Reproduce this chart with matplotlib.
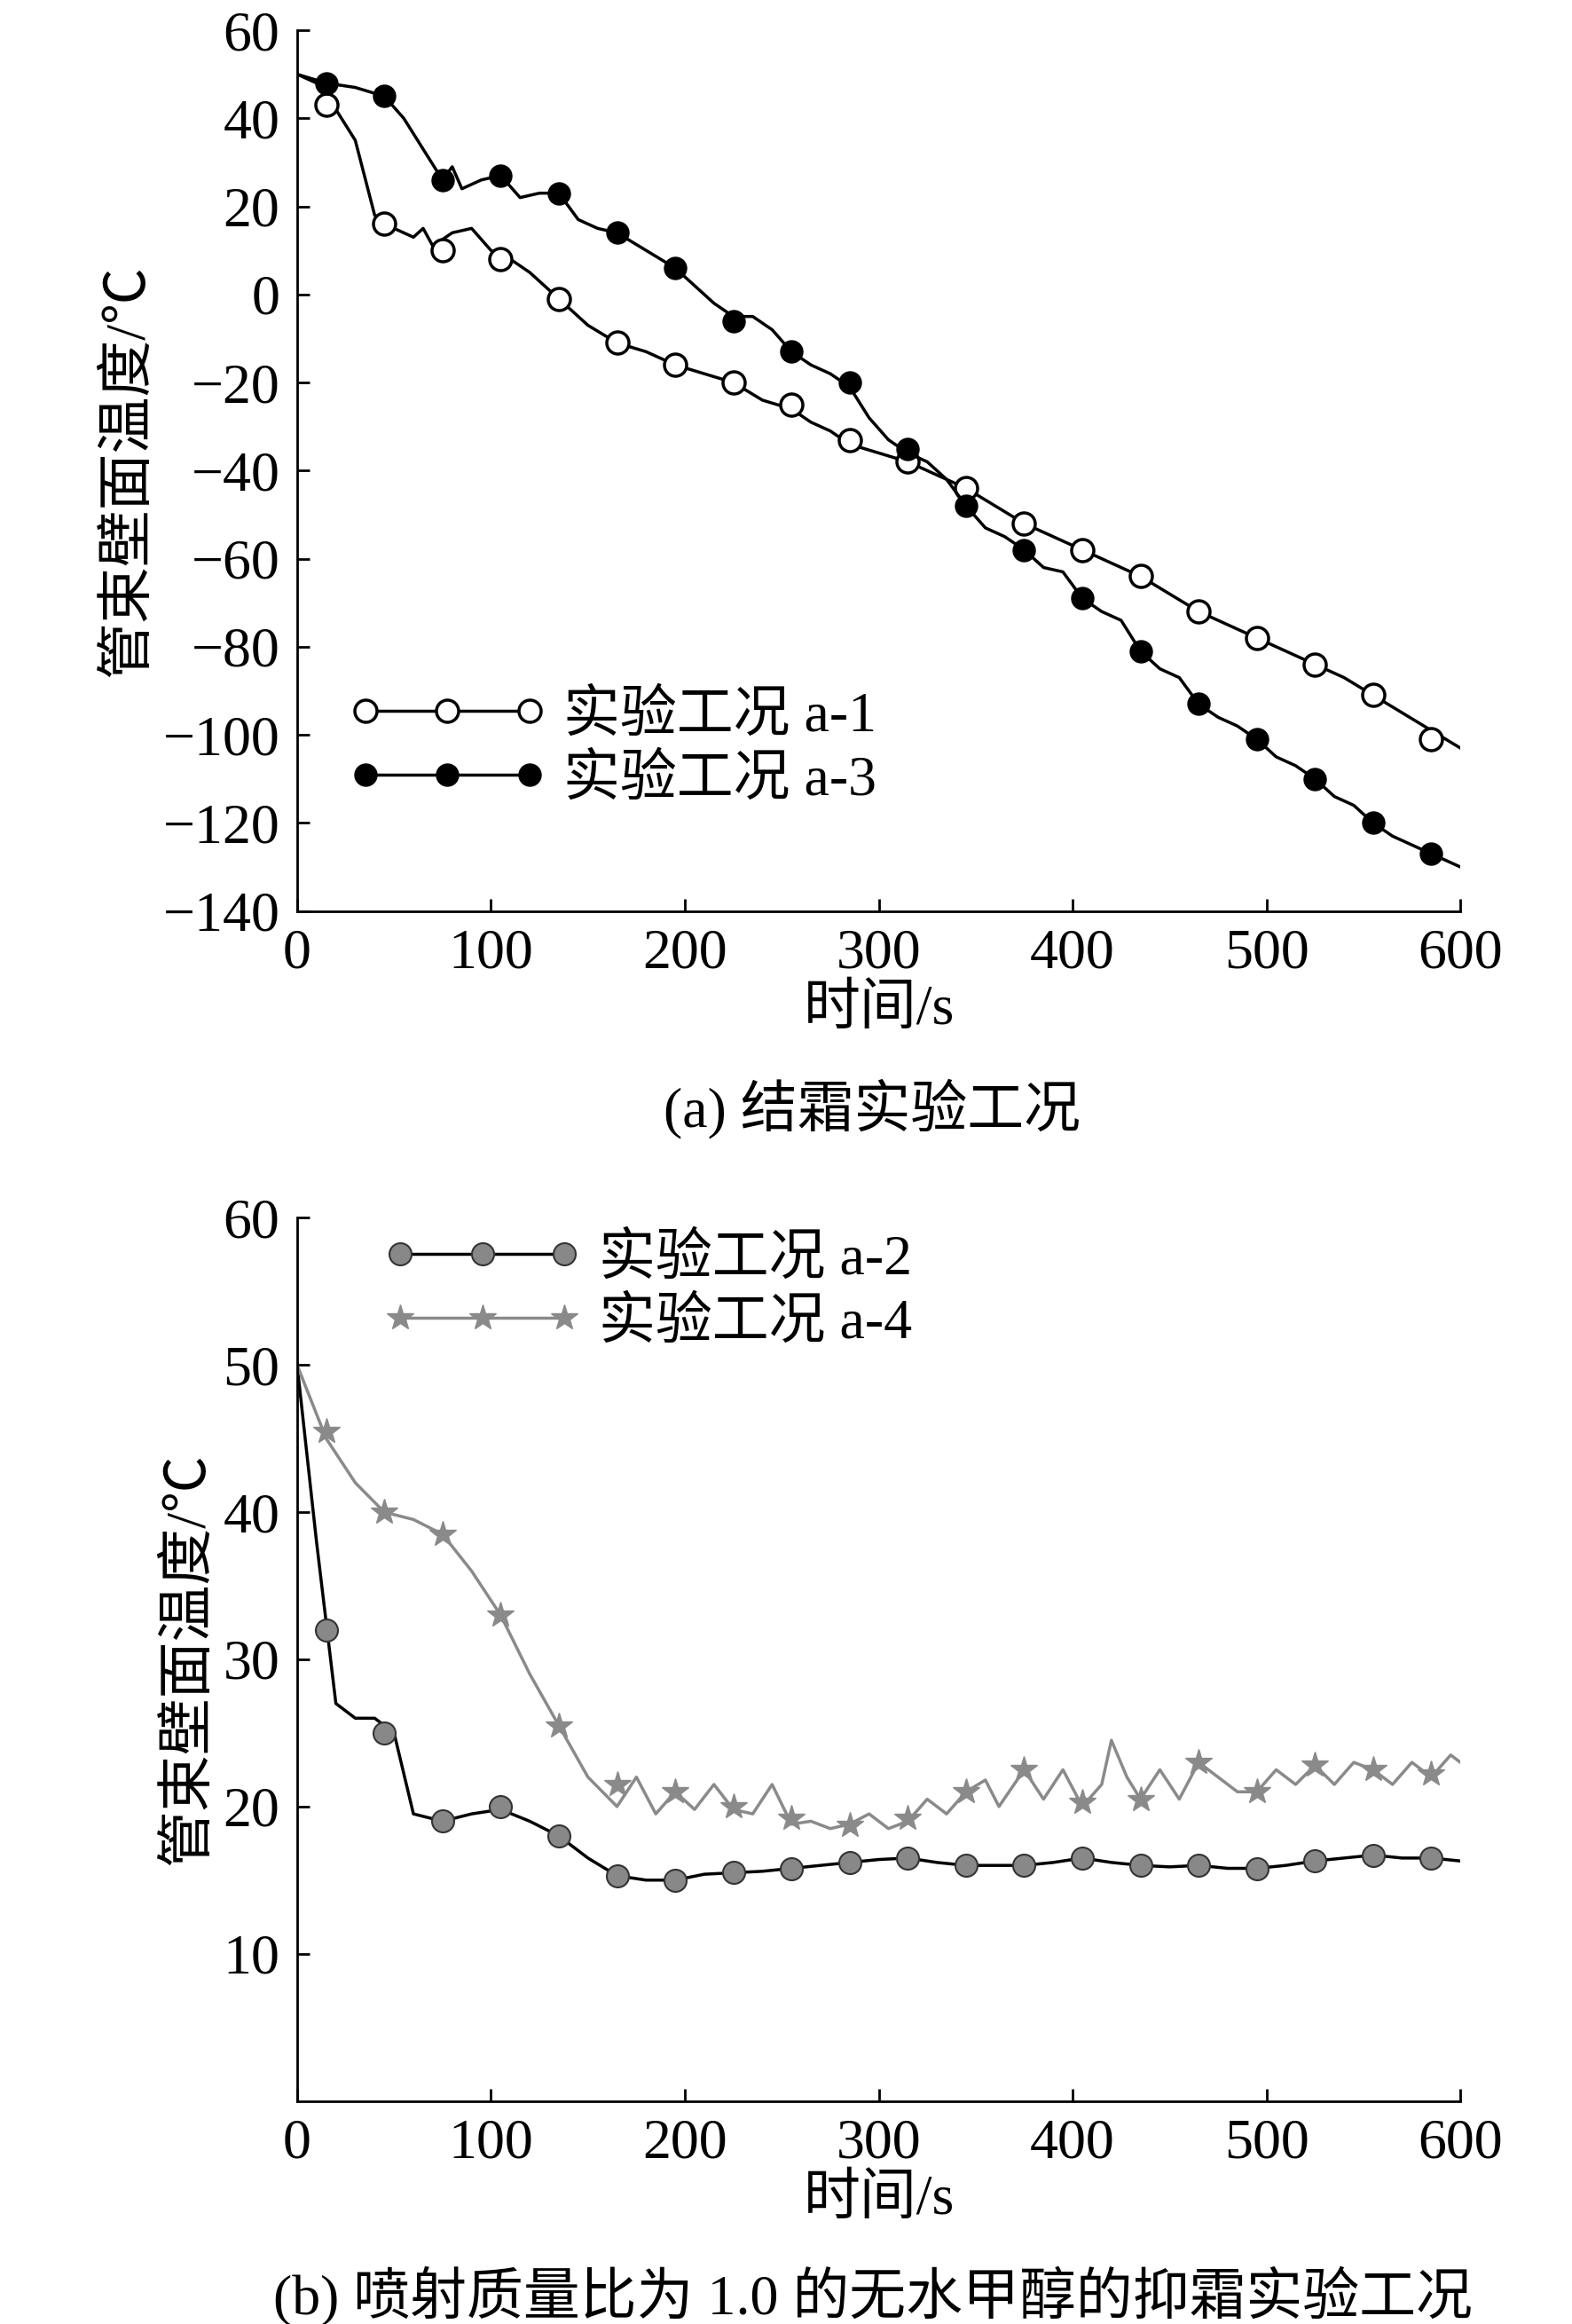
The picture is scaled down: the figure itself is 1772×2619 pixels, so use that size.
import matplotlib.pyplot as plt
from matplotlib.lines import Line2D

FONT = ['Liberation Serif', 'Noto Sans CJK SC']

mark_t = [15, 45, 75, 105, 135, 165, 195, 225, 255, 285, 315, 345, 375, 405, 435, 465, 495, 525, 555, 585]

# (a) frosting runs
a1_t = [0, 10, 20, 30, 40, 50, 60, 65, 70, 80, 90, 100, 110, 120, 130, 140, 150, 165, 180, 195, 210, 225, 240, 255, 265,
        275, 285, 300, 315, 330, 345, 360, 375, 390, 405, 420, 435, 450, 465, 480, 495, 510, 525, 540, 555, 570, 585, 600]
a1_v = [50, 48, 42, 35, 18, 15, 13, 15, 11, 14, 15, 10, 8, 5, 1, -3, -7, -11, -13, -16, -18, -20, -24, -26, -29,
        -31, -34, -36, -38, -41, -44, -48, -52, -55, -58, -61, -64, -68, -72, -75, -78, -81, -84, -87, -91, -95, -99, -103]
a1_m = [43, 16, 10, 8, -1, -11, -16, -20, -25, -33, -38, -44, -52, -58, -64, -72, -78, -84, -91, -101]

a3_t = [0, 15, 30, 45, 55, 65, 75, 80, 85, 95, 105, 115, 125, 135, 145, 155, 165, 180, 195, 205, 215, 225, 235, 245, 255,
        265, 275, 285, 295, 305, 315, 325, 335, 345, 355, 365, 375, 385, 395, 405, 415, 425, 435, 445, 455, 465, 475,
        485, 495, 505, 515, 525, 535, 545, 555, 565, 575, 585, 600]
a3_v = [50, 48, 47, 45, 40, 33, 26, 29, 24, 26, 27, 22, 23, 23, 17, 15, 14, 10, 6, 2, -2, -5, -5, -8, -13,
        -16, -18, -21, -28, -33, -36, -38, -42, -48, -53, -55, -58, -62, -63, -69, -72, -74, -81, -85, -87, -93, -96,
        -98, -101, -105, -107, -110, -114, -116, -120, -123, -125, -127, -130]
a3_m = [48, 45, 26, 27, 23, 14, 6, -6, -13, -20, -35, -48, -58, -69, -81, -93, -101, -110, -120, -127]

# (b) methanol spray runs
a2_t = [0, 10, 20, 30, 40, 50, 60, 75, 90, 105, 120, 135, 150, 165, 180, 195, 210, 225, 240, 255, 270, 285, 300, 315,
        330, 345, 360, 375, 390, 405, 420, 435, 450, 465, 480, 495, 510, 525, 540, 555, 570, 585, 600]
a2_v = [50, 38, 27, 26, 26, 25, 19.5, 19, 19.5, 19.8, 19, 18, 16.5, 15.3, 15, 15, 15.4, 15.5, 15.6, 15.8, 16, 16.2, 16.4,
        16.5, 16.2, 16, 16, 16, 16.2, 16.5, 16.2, 16, 15.9, 16, 15.8, 15.8, 16, 16.3, 16.5, 16.7, 16.5, 16.5, 16.3]
a2_m = [32, 25, 19, 20, 18, 15.3, 15, 15.5, 15.8, 16.2, 16.5, 16, 16, 16.5, 16, 16, 15.8, 16.3, 16.7, 16.5]

a4_t = [0, 15, 30, 45, 60, 75, 90, 105, 120, 135, 150, 165, 175, 185, 195, 205, 215, 225, 235, 245, 255, 265, 275, 285,
        295, 305, 315, 325, 335, 345, 355, 362, 375, 385, 395, 405, 415, 420, 428, 435, 445, 455, 465, 475, 485, 495,
        505, 515, 525, 535, 545, 555, 565, 575, 585, 595, 600]
a4_v = [50, 45, 42, 40, 39.5, 38.5, 36, 33, 29, 25.5, 22, 20, 22, 19.5, 21, 19.8, 21.5, 19.8, 19.5, 21.5, 18.8, 19,
        18.5, 18.8, 19.5, 18.5, 19, 20.5, 19.5, 21, 21.8, 20, 22.5, 20.5, 22.5, 20, 21.5, 24.5, 22, 20.5, 22.5, 20.5,
        23, 22, 21, 21, 22.5, 21.5, 22.8, 21.5, 23, 22.5, 21.5, 23, 22, 23.5, 23]
a4_m = [45.5, 40, 38.5, 33, 25.5, 21.5, 21, 20, 19.2, 18.7, 19.2, 21, 22.5, 20.3, 20.5, 23, 21, 22.8, 22.5, 22.2]

if __name__ == "__main__":
    plt.rcParams['font.family'] = FONT
    plt.rcParams['font.size'] = 46
    fig = plt.figure(figsize=(17.72, 26.19), dpi=100)

    ax = plt.axes([0.189, 0.608, 0.740, 0.379])
    plt.plot(a1_t, a1_v, '-', color='black', lw=2.5)
    plt.plot(mark_t, a1_m, 'o', mfc='white', mec='black', mew=2.5, ms=18)
    plt.plot(a3_t, a3_v, '-', color='black', lw=2.5)
    plt.plot(mark_t, a3_m, 'o', color='black', ms=18)
    plt.xlim(0, 600)
    plt.ylim(-140, 60)
    plt.xticks(range(0, 601, 100))
    plt.yticks(range(-140, 61, 20), [str(v).replace('-', '−') for v in range(-140, 61, 20)])
    plt.xlabel('时间/s', labelpad=4)
    plt.ylabel('管束壁面温度/℃', labelpad=6)
    ax.spines['top'].set_visible(False)
    ax.spines['right'].set_visible(False)
    ax.tick_params(direction='in', length=10, width=2, pad=14)
    for s in ax.spines.values():
        s.set_linewidth(2)
    h1 = Line2D([], [], color='black', lw=2.5, marker='o', mfc='white', mec='black', mew=2.5, ms=18)
    h3 = Line2D([], [], color='black', lw=2.5, marker='o', ms=18)
    plt.legend([h1, h3], ['实验工况 a-1', '实验工况 a-3'], numpoints=3, handlelength=3.5, frameon=False,
               loc='lower left', bbox_to_anchor=(0.0, 0.06), labelspacing=0.2, handletextpad=0.3)
    fig.text(0.555, 0.523, '(a) 结霜实验工况', ha='center', va='center')

    ax = plt.axes([0.189, 0.096, 0.740, 0.380])
    plt.plot(a2_t, a2_v, '-', color='black', lw=2.5)
    plt.plot(mark_t, a2_m, 'o', color='#888888', mec='#333333', mew=1.5, ms=18)
    plt.plot(a4_t, a4_v, '-', color='#8a8a8a', lw=2.5)
    plt.plot(mark_t, a4_m, '*', color='#8a8a8a', ms=22)
    plt.xlim(0, 600)
    plt.ylim(0, 60)
    plt.xticks(range(0, 601, 100))
    plt.yticks(range(10, 61, 10))
    plt.xlabel('时间/s', labelpad=4)
    plt.ylabel('管束壁面温度/℃', labelpad=6)
    ax.spines['top'].set_visible(False)
    ax.spines['right'].set_visible(False)
    ax.tick_params(direction='in', length=10, width=2, pad=14)
    for s in ax.spines.values():
        s.set_linewidth(2)
    h2 = Line2D([], [], color='black', lw=2.5, marker='o', mfc='#888888', mec='#333333', mew=1.5, ms=18)
    h4 = Line2D([], [], color='#8a8a8a', lw=2.5, marker='*', ms=22)
    plt.legend([h2, h4], ['实验工况 a-2', '实验工况 a-4'], numpoints=3, handlelength=3.5, frameon=False,
               loc='upper left', bbox_to_anchor=(0.03, 1.04), labelspacing=0.2, handletextpad=0.3)
    fig.text(0.555, 0.012, '(b) 喷射质量比为 1.0 的无水甲醇的抑霜实验工况', ha='center', va='center')

    plt.savefig('out.png')
